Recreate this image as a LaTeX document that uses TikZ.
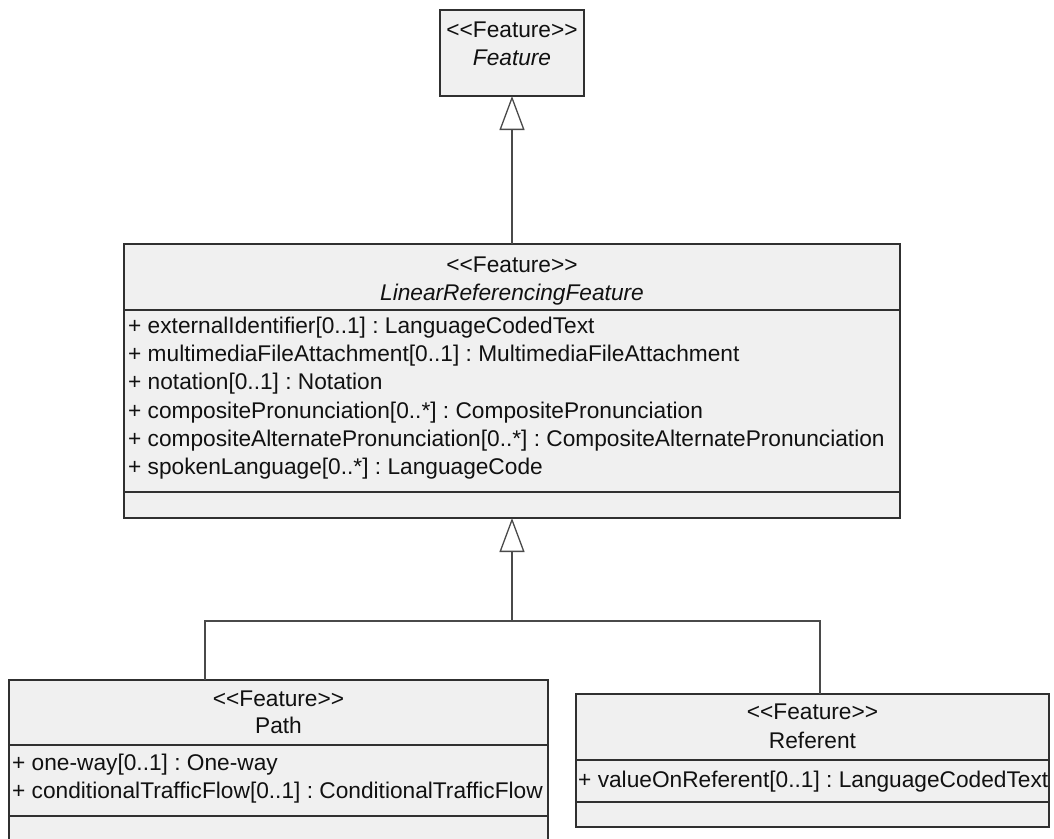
\documentclass[tikz,border=0pt]{standalone}
\usepackage{fontspec}
\setmainfont{Liberation Sans}
\usetikzlibrary{arrows.meta}
\frenchspacing
\definecolor{boxfill}{HTML}{F0F0F0}
\definecolor{boxline}{HTML}{303030}
\definecolor{connline}{HTML}{4A4A4A}
\definecolor{txtcol}{HTML}{111111}
\newcommand{\stereo}[1]{<\kern0pt<#1>\kern0pt>}
\begin{document}
\begin{tikzpicture}[x=1pt,y=-1pt,
  cls/.style={draw=boxline, line width=1.3pt, fill=boxfill, rectangle, inner sep=0pt, outer sep=0pt},
  div/.style={draw=boxline, line width=1.3pt},
  txt/.style={font=\fontsize{22.7}{27}\selectfont, inner sep=0pt, text=txtcol},
  hdr/.style={txt, anchor=base},
  attr/.style={txt, anchor=base west},
  conn/.style={draw=connline, line width=1.3pt},
  gen/.style={conn, -{Triangle[open, width=25pt, length=34pt]}}]
\useasboundingbox (0,0) rectangle (1054,838);
\clip (0,0) rectangle (1054,838);

% ---------- Feature ----------
\node[cls, minimum width=144pt, minimum height=86pt] (feat) at (512,53) {};
\node[hdr] (feats) at (512,37.5) {\stereo{Feature}};
\node[hdr] (featn) at (512,65) {\itshape Feature};

% ---------- LinearReferencingFeature ----------
\node[cls, minimum width=776pt, minimum height=274pt] (lrf) at (512,381) {};
\draw[div] (lrf.west |- 0,310) -- (lrf.east |- 0,310);
\draw[div] (lrf.west |- 0,492) -- (lrf.east |- 0,492);
\node[hdr] (lrfs) at (512,272) {\stereo{Feature}};
\node[hdr] (lrfn) at (512,300) {\itshape LinearReferencingFeature};
\node[attr] (lrfa1) at (128,333.5) {+ externalIdentifier[0..1] : LanguageCodedText};
\node[attr] (lrfa2) at (128,361.7) {+ multimediaFileAttachment[0..1] : MultimediaFileAttachment};
\node[attr] (lrfa3) at (128,389.9) {+ notation[0..1] : Notation};
\node[attr] (lrfa4) at (128,418.1) {+ compositePronunciation[0..*] : CompositePronunciation};
\node[attr] (lrfa5) at (128,446.3) {+ compositeAlternatePronunciation[0..*] : CompositeAlternatePronunciation};
\node[attr] (lrfa6) at (128,474.5) {+ spokenLanguage[0..*] : LanguageCode};

% ---------- Path ----------
\node[cls, minimum width=539pt, minimum height=190pt] (pathbox) at (278.5,775) {};
\draw[div] (pathbox.west |- 0,745) -- (pathbox.east |- 0,745);
\draw[div] (pathbox.west |- 0,816) -- (pathbox.east |- 0,816);
\node[hdr] (paths) at (278.5,706.5) {\stereo{Feature}};
\node[hdr] (pathn) at (278.5,733) {Path};
\node[attr] (patha1) at (12,770) {+ one-way[0..1] : One-way};
\node[attr] (patha2) at (12,798) {+ conditionalTrafficFlow[0..1] : ConditionalTrafficFlow};

% ---------- Referent ----------
\node[cls, minimum width=473pt, minimum height=133pt] (refbox) at (812.5,760.5) {};
\draw[div] (refbox.west |- 0,760) -- (refbox.east |- 0,760);
\draw[div] (refbox.west |- 0,802) -- (refbox.east |- 0,802);
\node[hdr] (refs) at (812.5,719) {\stereo{Feature}};
\node[hdr] (refn) at (812.5,748) {Referent};
\node[attr] (refa1) at (578,787) {+ valueOnReferent[0..1] : LanguageCodedText};

% ---------- Connectors ----------
\coordinate (pj) at (205,621);
\coordinate (rj) at (820,621);
\coordinate (mj) at (512,621);
\draw[gen] (lrf.north) -- (feat.south);
\draw[conn] (pathbox.north -| pj) -- (pj) -- (rj) -- (refbox.north -| rj);
\draw[gen] (mj) -- (lrf.south);
\end{tikzpicture}
\end{document}
